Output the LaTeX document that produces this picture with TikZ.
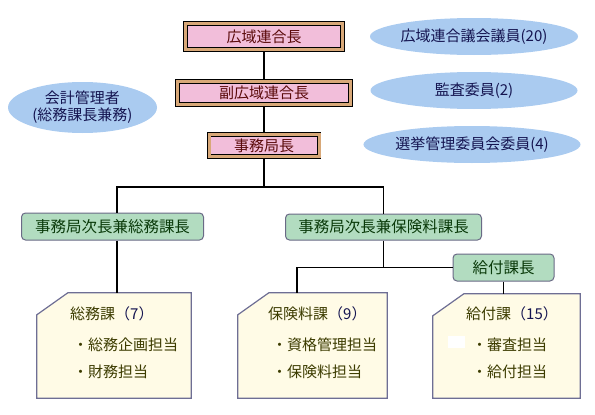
\documentclass[tikz,border=0pt]{standalone}
\usepackage{fontspec}
\setmainfont{Noto Sans CJK JP}
\usepackage{xcolor}
\usepackage{tikz}
\usetikzlibrary{shapes.geometric, positioning}

\definecolor{pinkfill}{HTML}{F2BEDA}
\definecolor{tanframe}{HTML}{D8A878}
\definecolor{maroontext}{HTML}{5A0A0A}
\definecolor{greenfill}{HTML}{B2DCC0}
\definecolor{greenline}{HTML}{6A6A86}
\definecolor{greentext}{HTML}{0A3A0A}
\definecolor{bluefill}{HTML}{AACBF0}
\definecolor{navytext}{HTML}{141450}
\definecolor{notefill}{HTML}{FFFBE6}
\definecolor{noteline}{HTML}{6E6E94}
\definecolor{notetext}{HTML}{3C3C00}

\begin{document}
\begin{tikzpicture}[x=1pt, y=-1pt, font=\fontsize{15}{17}\selectfont]
\tikzstyle{head} = [rectangle, draw=black, line width=0.8pt, double=tanframe, double distance=3pt, fill=pinkfill, text=maroontext, inner sep=0pt, outer sep=2.3pt]
\tikzstyle{deputy} = [rectangle, draw=greenline, line width=1pt, fill=greenfill, rounded corners=4pt, text=greentext, inner sep=0pt, font=\fontsize{15.5}{17}\selectfont]
\tikzstyle{board} = [ellipse, fill=bluefill, text=navytext, inner sep=0pt]
\tikzstyle{section} = [rectangle, inner sep=0pt, minimum height=105pt]
\tikzstyle{notebox} = [draw=noteline, line width=1.2pt, fill=notefill]
\tikzstyle{duty} = [anchor=west, text=notetext, inner sep=0pt]
\tikzstyle{link} = [draw, line width=1.6pt]

\useasboundingbox (0,0) rectangle (595,415);

% leadership
\node (chief) [head, minimum width=157pt, minimum height=26pt] at (264,36.5) {広域連合長};
\node (vice) [head, minimum width=173pt, minimum height=23pt] at (264,93) {副広域連合長};
\node (dg) [head, minimum width=110pt, minimum height=22pt] at (264,145.5) {事務局長};

% boards
\node (acct) [board, minimum width=149pt, minimum height=51pt, align=center] at (82.5,107.5) {会計管理者\\(総務課長兼務)};
\node (council) [board, minimum width=208pt, minimum height=37pt] at (474,36.5) {広域連合議会議員(20)};
\node (audit) [board, minimum width=207pt, minimum height=37pt] at (474,90.5) {監査委員(2)};
\node (elect) [board, minimum width=203pt, minimum height=37pt] at (472,144.5) {選挙管理委員会委員(4)};

% deputies
\node (depA) [deputy, minimum width=182pt, minimum height=27pt] at (112.5,226.5) {事務局次長兼総務課長};
\node (depB) [deputy, minimum width=196pt, minimum height=26pt] at (383.5,227) {事務局次長兼保険料課長};
\node (benefit) [deputy, minimum width=101pt, minimum height=27pt] at (503.5,267.5) {給付課長};

% sections
\node (secA) [section, minimum width=154pt] at (114,345.5) {};
\node (secB) [section, minimum width=149pt] at (312.5,345.5) {};
\node (secC) [section, minimum width=147pt, minimum height=104pt] at (506.5,346) {};
\foreach \s in {secA, secB, secC}
  \draw[notebox] ([xshift=31pt]\s.north west) -- (\s.north east) -- (\s.south east) -- (\s.south west) -- ([yshift=-22pt]\s.north west) -- cycle;
\fill[white] (448,336) rectangle (465,348);

\node (secAname) [duty] at (70,314) {総務課\textcolor{navytext}{（7）}};
\node (secAplan) [duty] at (73,345) {・総務企画担当};
\node (secAfin) [duty] at (73,372) {・財務担当};
\node (secBname) [duty] at (268,314) {保険料課\textcolor{navytext}{（9）}};
\node (secBqual) [duty] at (272,345) {・資格管理担当};
\node (secBprem) [duty] at (272,372) {・保険料担当};
\node (secCname) [duty] at (466,314) {給付課\textcolor{navytext}{（15）}};
\node (secCexam) [duty] at (472,345) {・審査担当};
\node (secCpay) [duty] at (472,372) {・給付担当};

% connectors
\coordinate (splitA) at (117,187);
\coordinate (splitB) at (383.5,187);
\draw[link] (chief) -- (vice);
\draw[link] (vice) -- (dg);
\draw[link] (dg) -- (dg |- splitA);
\draw[link] (splitA |- depA.north) -- (splitA) -- (splitB) -- (splitB |- depB.north);
\draw[link] (splitA |- depA.south) -- (splitA |- secA.north);
\draw[link] (depB) -- (depB |- benefit.west);
\draw[link] (benefit.west) -| ([xshift=59pt]secB.north west);
\draw[link] (benefit) -- (benefit |- secC.north);

\end{tikzpicture}
\end{document}
